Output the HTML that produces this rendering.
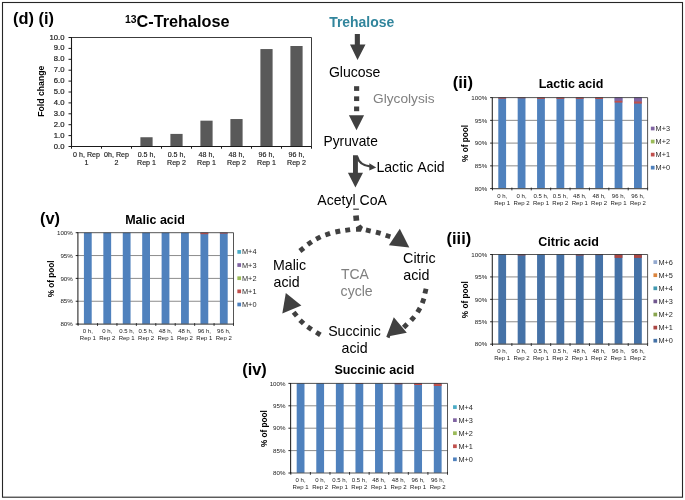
<!DOCTYPE html>
<html lang="en"><head><meta charset="utf-8"><title>13C-Trehalose tracing figure</title>
<style>html,body{margin:0;padding:0;background:#fff;}body{width:685px;height:500px;overflow:hidden;}svg{display:block;}text{font-family:"Liberation Sans", sans-serif;}</style></head><body>
<svg width="685" height="500" viewBox="0 0 685 500">
<rect x="0" y="0" width="685" height="500" fill="#ffffff"/>
<rect x="2.5" y="2.5" width="680" height="494.7" fill="none" stroke="#262626" stroke-width="1.1"/>
<text x="13.00" y="24.00" font-size="16.40" font-weight="bold" fill="#000" text-anchor="start">(d) (i)</text>
<text x="452.70" y="88.00" font-size="16.60" font-weight="bold" fill="#000" text-anchor="start">(ii)</text>
<text x="446.60" y="244.30" font-size="16.40" font-weight="bold" fill="#000" text-anchor="start">(iii)</text>
<text x="242.20" y="375.40" font-size="16.40" font-weight="bold" fill="#000" text-anchor="start">(iv)</text>
<text x="40.00" y="223.60" font-size="16.40" font-weight="bold" fill="#000" text-anchor="start">(v)</text>
<text x="125.0" y="27" font-size="16.25" font-weight="bold" fill="#000"><tspan font-size="10.4" dy="-4.2">13</tspan><tspan dy="4.2">C-Trehalose</tspan></text>
<path d="M71.5 37.5 H311.5 V146.5" fill="none" stroke="#262626" stroke-width="0.9"/>
<rect x="140.40" y="137.24" width="12.2" height="9.26" fill="#595959"/>
<rect x="170.40" y="133.91" width="12.2" height="12.59" fill="#595959"/>
<rect x="200.40" y="120.67" width="12.2" height="25.83" fill="#595959"/>
<rect x="230.40" y="119.03" width="12.2" height="27.47" fill="#595959"/>
<rect x="260.40" y="49.05" width="12.2" height="97.45" fill="#595959"/>
<rect x="290.40" y="46.00" width="12.2" height="100.50" fill="#595959"/>
<path d="M71.5 37.0 V146.5 H311.8" fill="none" stroke="#1a1a1a" stroke-width="1.1"/>
<path d="M68.5 146.50 H71.5" stroke="#1a1a1a" stroke-width="1"/>
<text x="64.50" y="148.50" font-size="7.70" font-weight="normal" fill="#1a1a1a" text-anchor="end" stroke="#1a1a1a" stroke-width="0.2">0.0</text>
<path d="M68.5 135.60 H71.5" stroke="#1a1a1a" stroke-width="1"/>
<text x="64.50" y="137.60" font-size="7.70" font-weight="normal" fill="#1a1a1a" text-anchor="end" stroke="#1a1a1a" stroke-width="0.2">1.0</text>
<path d="M68.5 124.70 H71.5" stroke="#1a1a1a" stroke-width="1"/>
<text x="64.50" y="126.70" font-size="7.70" font-weight="normal" fill="#1a1a1a" text-anchor="end" stroke="#1a1a1a" stroke-width="0.2">2.0</text>
<path d="M68.5 113.80 H71.5" stroke="#1a1a1a" stroke-width="1"/>
<text x="64.50" y="115.80" font-size="7.70" font-weight="normal" fill="#1a1a1a" text-anchor="end" stroke="#1a1a1a" stroke-width="0.2">3.0</text>
<path d="M68.5 102.90 H71.5" stroke="#1a1a1a" stroke-width="1"/>
<text x="64.50" y="104.90" font-size="7.70" font-weight="normal" fill="#1a1a1a" text-anchor="end" stroke="#1a1a1a" stroke-width="0.2">4.0</text>
<path d="M68.5 92.00 H71.5" stroke="#1a1a1a" stroke-width="1"/>
<text x="64.50" y="94.00" font-size="7.70" font-weight="normal" fill="#1a1a1a" text-anchor="end" stroke="#1a1a1a" stroke-width="0.2">5.0</text>
<path d="M68.5 81.10 H71.5" stroke="#1a1a1a" stroke-width="1"/>
<text x="64.50" y="83.10" font-size="7.70" font-weight="normal" fill="#1a1a1a" text-anchor="end" stroke="#1a1a1a" stroke-width="0.2">6.0</text>
<path d="M68.5 70.20 H71.5" stroke="#1a1a1a" stroke-width="1"/>
<text x="64.50" y="72.20" font-size="7.70" font-weight="normal" fill="#1a1a1a" text-anchor="end" stroke="#1a1a1a" stroke-width="0.2">7.0</text>
<path d="M68.5 59.30 H71.5" stroke="#1a1a1a" stroke-width="1"/>
<text x="64.50" y="61.30" font-size="7.70" font-weight="normal" fill="#1a1a1a" text-anchor="end" stroke="#1a1a1a" stroke-width="0.2">8.0</text>
<path d="M68.5 48.40 H71.5" stroke="#1a1a1a" stroke-width="1"/>
<text x="64.50" y="50.40" font-size="7.70" font-weight="normal" fill="#1a1a1a" text-anchor="end" stroke="#1a1a1a" stroke-width="0.2">9.0</text>
<path d="M68.5 37.50 H71.5" stroke="#1a1a1a" stroke-width="1"/>
<text x="64.50" y="39.50" font-size="7.70" font-weight="normal" fill="#1a1a1a" text-anchor="end" stroke="#1a1a1a" stroke-width="0.2">10.0</text>
<path d="M71.50 146.5 V148.7" stroke="#1a1a1a" stroke-width="1"/>
<path d="M101.50 146.5 V148.7" stroke="#1a1a1a" stroke-width="1"/>
<path d="M131.50 146.5 V148.7" stroke="#1a1a1a" stroke-width="1"/>
<path d="M161.50 146.5 V148.7" stroke="#1a1a1a" stroke-width="1"/>
<path d="M191.50 146.5 V148.7" stroke="#1a1a1a" stroke-width="1"/>
<path d="M221.50 146.5 V148.7" stroke="#1a1a1a" stroke-width="1"/>
<path d="M251.50 146.5 V148.7" stroke="#1a1a1a" stroke-width="1"/>
<path d="M281.50 146.5 V148.7" stroke="#1a1a1a" stroke-width="1"/>
<path d="M311.50 146.5 V148.7" stroke="#1a1a1a" stroke-width="1"/>
<text x="86.50" y="157.20" font-size="7.10" font-weight="normal" fill="#1a1a1a" text-anchor="middle" stroke="#1a1a1a" stroke-width="0.15">0 h, Rep</text>
<text x="86.50" y="165.20" font-size="7.10" font-weight="normal" fill="#1a1a1a" text-anchor="middle" stroke="#1a1a1a" stroke-width="0.15">1</text>
<text x="116.50" y="157.20" font-size="7.10" font-weight="normal" fill="#1a1a1a" text-anchor="middle" stroke="#1a1a1a" stroke-width="0.15">0h, Rep</text>
<text x="116.50" y="165.20" font-size="7.10" font-weight="normal" fill="#1a1a1a" text-anchor="middle" stroke="#1a1a1a" stroke-width="0.15">2</text>
<text x="146.50" y="157.20" font-size="7.10" font-weight="normal" fill="#1a1a1a" text-anchor="middle" stroke="#1a1a1a" stroke-width="0.15">0.5 h,</text>
<text x="146.50" y="165.20" font-size="7.10" font-weight="normal" fill="#1a1a1a" text-anchor="middle" stroke="#1a1a1a" stroke-width="0.15">Rep 1</text>
<text x="176.50" y="157.20" font-size="7.10" font-weight="normal" fill="#1a1a1a" text-anchor="middle" stroke="#1a1a1a" stroke-width="0.15">0.5 h,</text>
<text x="176.50" y="165.20" font-size="7.10" font-weight="normal" fill="#1a1a1a" text-anchor="middle" stroke="#1a1a1a" stroke-width="0.15">Rep 2</text>
<text x="206.50" y="157.20" font-size="7.10" font-weight="normal" fill="#1a1a1a" text-anchor="middle" stroke="#1a1a1a" stroke-width="0.15">48 h,</text>
<text x="206.50" y="165.20" font-size="7.10" font-weight="normal" fill="#1a1a1a" text-anchor="middle" stroke="#1a1a1a" stroke-width="0.15">Rep 1</text>
<text x="236.50" y="157.20" font-size="7.10" font-weight="normal" fill="#1a1a1a" text-anchor="middle" stroke="#1a1a1a" stroke-width="0.15">48 h,</text>
<text x="236.50" y="165.20" font-size="7.10" font-weight="normal" fill="#1a1a1a" text-anchor="middle" stroke="#1a1a1a" stroke-width="0.15">Rep 2</text>
<text x="266.50" y="157.20" font-size="7.10" font-weight="normal" fill="#1a1a1a" text-anchor="middle" stroke="#1a1a1a" stroke-width="0.15">96 h,</text>
<text x="266.50" y="165.20" font-size="7.10" font-weight="normal" fill="#1a1a1a" text-anchor="middle" stroke="#1a1a1a" stroke-width="0.15">Rep 1</text>
<text x="296.50" y="157.20" font-size="7.10" font-weight="normal" fill="#1a1a1a" text-anchor="middle" stroke="#1a1a1a" stroke-width="0.15">96 h,</text>
<text x="296.50" y="165.20" font-size="7.10" font-weight="normal" fill="#1a1a1a" text-anchor="middle" stroke="#1a1a1a" stroke-width="0.15">Rep 2</text>
<text transform="translate(43.60 91.20) rotate(-90)" font-size="8.70" font-weight="bold" fill="#000" text-anchor="middle">Fold change</text>
<path d="M492.5 120.35 H647.6" stroke="#8c8c8c" stroke-width="1"/>
<path d="M492.5 143.10 H647.6" stroke="#8c8c8c" stroke-width="1"/>
<path d="M492.5 165.85 H647.6" stroke="#8c8c8c" stroke-width="1"/>
<rect x="498.29" y="97.60" width="7.8" height="91.00" fill="#4F81BD"/>
<rect x="498.29" y="97.60" width="7.8" height="1.10" fill="#C0504D"/>
<rect x="517.68" y="97.60" width="7.8" height="91.00" fill="#4F81BD"/>
<rect x="517.68" y="97.60" width="7.8" height="0.70" fill="#C0504D"/>
<rect x="537.07" y="97.60" width="7.8" height="91.00" fill="#4F81BD"/>
<rect x="537.07" y="97.60" width="7.8" height="1.30" fill="#C0504D"/>
<rect x="556.46" y="97.60" width="7.8" height="91.00" fill="#4F81BD"/>
<rect x="556.46" y="97.60" width="7.8" height="1.30" fill="#C0504D"/>
<rect x="575.84" y="97.60" width="7.8" height="91.00" fill="#4F81BD"/>
<rect x="575.84" y="97.60" width="7.8" height="1.30" fill="#C0504D"/>
<rect x="595.23" y="97.60" width="7.8" height="91.00" fill="#4F81BD"/>
<rect x="595.23" y="97.60" width="7.8" height="1.40" fill="#C0504D"/>
<rect x="614.62" y="97.60" width="7.8" height="91.00" fill="#4F81BD"/>
<rect x="614.62" y="97.60" width="7.8" height="3.20" fill="#8064A2"/>
<rect x="614.62" y="100.80" width="7.8" height="1.80" fill="#C0504D"/>
<rect x="634.01" y="97.60" width="7.8" height="91.00" fill="#4F81BD"/>
<rect x="634.01" y="97.60" width="7.8" height="3.80" fill="#8064A2"/>
<rect x="634.01" y="101.40" width="7.8" height="2.20" fill="#C0504D"/>
<path d="M492.5 97.6 H647.6 V188.6" fill="none" stroke="#2a2a2a" stroke-width="0.8"/>
<path d="M492.5 188.60 H647.6" stroke="#5a5a5a" stroke-width="1.2"/>
<path d="M492.3 97.2 V189.2" stroke="#2a2a2a" stroke-width="1.1"/>
<path d="M490.1 97.60 H492.5" stroke="#111" stroke-width="0.9"/>
<text x="487.20" y="99.80" font-size="6.20" font-weight="normal" fill="#1a1a1a" text-anchor="end">100%</text>
<path d="M490.1 120.35 H492.5" stroke="#111" stroke-width="0.9"/>
<text x="487.20" y="122.55" font-size="6.20" font-weight="normal" fill="#1a1a1a" text-anchor="end">95%</text>
<path d="M490.1 143.10 H492.5" stroke="#111" stroke-width="0.9"/>
<text x="487.20" y="145.30" font-size="6.20" font-weight="normal" fill="#1a1a1a" text-anchor="end">90%</text>
<path d="M490.1 165.85 H492.5" stroke="#111" stroke-width="0.9"/>
<text x="487.20" y="168.05" font-size="6.20" font-weight="normal" fill="#1a1a1a" text-anchor="end">85%</text>
<path d="M490.1 188.60 H492.5" stroke="#111" stroke-width="0.9"/>
<text x="487.20" y="190.80" font-size="6.20" font-weight="normal" fill="#1a1a1a" text-anchor="end">80%</text>
<path d="M492.50 187.6 V190.4" stroke="#222" stroke-width="0.9"/>
<path d="M511.89 187.6 V190.4" stroke="#222" stroke-width="0.9"/>
<path d="M531.27 187.6 V190.4" stroke="#222" stroke-width="0.9"/>
<path d="M550.66 187.6 V190.4" stroke="#222" stroke-width="0.9"/>
<path d="M570.05 187.6 V190.4" stroke="#222" stroke-width="0.9"/>
<path d="M589.44 187.6 V190.4" stroke="#222" stroke-width="0.9"/>
<path d="M608.83 187.6 V190.4" stroke="#222" stroke-width="0.9"/>
<path d="M628.21 187.6 V190.4" stroke="#222" stroke-width="0.9"/>
<path d="M647.60 187.6 V190.4" stroke="#222" stroke-width="0.9"/>
<text x="502.19" y="197.70" font-size="6.00" font-weight="normal" fill="#1a1a1a" text-anchor="middle">0 h,</text>
<text x="502.19" y="204.70" font-size="6.00" font-weight="normal" fill="#1a1a1a" text-anchor="middle">Rep 1</text>
<text x="521.58" y="197.70" font-size="6.00" font-weight="normal" fill="#1a1a1a" text-anchor="middle">0 h,</text>
<text x="521.58" y="204.70" font-size="6.00" font-weight="normal" fill="#1a1a1a" text-anchor="middle">Rep 2</text>
<text x="540.97" y="197.70" font-size="6.00" font-weight="normal" fill="#1a1a1a" text-anchor="middle">0.5 h,</text>
<text x="540.97" y="204.70" font-size="6.00" font-weight="normal" fill="#1a1a1a" text-anchor="middle">Rep 1</text>
<text x="560.36" y="197.70" font-size="6.00" font-weight="normal" fill="#1a1a1a" text-anchor="middle">0.5 h,</text>
<text x="560.36" y="204.70" font-size="6.00" font-weight="normal" fill="#1a1a1a" text-anchor="middle">Rep 2</text>
<text x="579.74" y="197.70" font-size="6.00" font-weight="normal" fill="#1a1a1a" text-anchor="middle">48 h,</text>
<text x="579.74" y="204.70" font-size="6.00" font-weight="normal" fill="#1a1a1a" text-anchor="middle">Rep 1</text>
<text x="599.13" y="197.70" font-size="6.00" font-weight="normal" fill="#1a1a1a" text-anchor="middle">48 h,</text>
<text x="599.13" y="204.70" font-size="6.00" font-weight="normal" fill="#1a1a1a" text-anchor="middle">Rep 2</text>
<text x="618.52" y="197.70" font-size="6.00" font-weight="normal" fill="#1a1a1a" text-anchor="middle">96 h,</text>
<text x="618.52" y="204.70" font-size="6.00" font-weight="normal" fill="#1a1a1a" text-anchor="middle">Rep 1</text>
<text x="637.91" y="197.70" font-size="6.00" font-weight="normal" fill="#1a1a1a" text-anchor="middle">96 h,</text>
<text x="637.91" y="204.70" font-size="6.00" font-weight="normal" fill="#1a1a1a" text-anchor="middle">Rep 2</text>
<text x="571.05" y="88.00" font-size="12.50" font-weight="bold" fill="#000" text-anchor="middle">Lactic acid</text>
<text transform="translate(468.00 143.50) rotate(-90)" font-size="8.20" font-weight="bold" fill="#000" text-anchor="middle">% of pool</text>
<rect x="650.85" y="126.65" width="3.7" height="3.7" fill="#8064A2"/>
<text x="655.60" y="131.00" font-size="7.35" font-weight="normal" fill="#2a2a2a" text-anchor="start">M+3</text>
<rect x="650.85" y="139.70" width="3.7" height="3.7" fill="#9BBB59"/>
<text x="655.60" y="144.05" font-size="7.35" font-weight="normal" fill="#2a2a2a" text-anchor="start">M+2</text>
<rect x="650.85" y="152.75" width="3.7" height="3.7" fill="#C0504D"/>
<text x="655.60" y="157.10" font-size="7.35" font-weight="normal" fill="#2a2a2a" text-anchor="start">M+1</text>
<rect x="650.85" y="165.80" width="3.7" height="3.7" fill="#4F81BD"/>
<text x="655.60" y="170.15" font-size="7.35" font-weight="normal" fill="#2a2a2a" text-anchor="start">M+0</text>
<path d="M492.5 276.93 H647.6" stroke="#8c8c8c" stroke-width="1"/>
<path d="M492.5 299.35 H647.6" stroke="#8c8c8c" stroke-width="1"/>
<path d="M492.5 321.77 H647.6" stroke="#8c8c8c" stroke-width="1"/>
<rect x="498.29" y="254.50" width="7.8" height="89.70" fill="#4572A7"/>
<rect x="517.68" y="254.50" width="7.8" height="89.70" fill="#4572A7"/>
<rect x="517.68" y="254.50" width="7.8" height="0.90" fill="#AA4643"/>
<rect x="537.07" y="254.50" width="7.8" height="89.70" fill="#4572A7"/>
<rect x="556.46" y="254.50" width="7.8" height="89.70" fill="#4572A7"/>
<rect x="575.84" y="254.50" width="7.8" height="89.70" fill="#4572A7"/>
<rect x="575.84" y="254.50" width="7.8" height="1.00" fill="#AA4643"/>
<rect x="595.23" y="254.50" width="7.8" height="89.70" fill="#4572A7"/>
<rect x="595.23" y="254.50" width="7.8" height="0.60" fill="#AA4643"/>
<rect x="614.62" y="254.50" width="7.8" height="89.70" fill="#4572A7"/>
<rect x="614.62" y="254.50" width="7.8" height="3.40" fill="#AA4643"/>
<rect x="634.01" y="254.50" width="7.8" height="89.70" fill="#4572A7"/>
<rect x="634.01" y="254.50" width="7.8" height="3.40" fill="#AA4643"/>
<path d="M492.5 254.5 H647.6 V344.2" fill="none" stroke="#2a2a2a" stroke-width="0.8"/>
<path d="M492.5 344.20 H647.6" stroke="#5a5a5a" stroke-width="1.2"/>
<path d="M492.3 254.1 V344.8" stroke="#2a2a2a" stroke-width="1.1"/>
<path d="M490.1 254.50 H492.5" stroke="#111" stroke-width="0.9"/>
<text x="487.20" y="256.70" font-size="6.20" font-weight="normal" fill="#1a1a1a" text-anchor="end">100%</text>
<path d="M490.1 276.93 H492.5" stroke="#111" stroke-width="0.9"/>
<text x="487.20" y="279.12" font-size="6.20" font-weight="normal" fill="#1a1a1a" text-anchor="end">95%</text>
<path d="M490.1 299.35 H492.5" stroke="#111" stroke-width="0.9"/>
<text x="487.20" y="301.55" font-size="6.20" font-weight="normal" fill="#1a1a1a" text-anchor="end">90%</text>
<path d="M490.1 321.77 H492.5" stroke="#111" stroke-width="0.9"/>
<text x="487.20" y="323.97" font-size="6.20" font-weight="normal" fill="#1a1a1a" text-anchor="end">85%</text>
<path d="M490.1 344.20 H492.5" stroke="#111" stroke-width="0.9"/>
<text x="487.20" y="346.40" font-size="6.20" font-weight="normal" fill="#1a1a1a" text-anchor="end">80%</text>
<path d="M492.50 343.2 V346.0" stroke="#222" stroke-width="0.9"/>
<path d="M511.89 343.2 V346.0" stroke="#222" stroke-width="0.9"/>
<path d="M531.27 343.2 V346.0" stroke="#222" stroke-width="0.9"/>
<path d="M550.66 343.2 V346.0" stroke="#222" stroke-width="0.9"/>
<path d="M570.05 343.2 V346.0" stroke="#222" stroke-width="0.9"/>
<path d="M589.44 343.2 V346.0" stroke="#222" stroke-width="0.9"/>
<path d="M608.83 343.2 V346.0" stroke="#222" stroke-width="0.9"/>
<path d="M628.21 343.2 V346.0" stroke="#222" stroke-width="0.9"/>
<path d="M647.60 343.2 V346.0" stroke="#222" stroke-width="0.9"/>
<text x="502.19" y="353.30" font-size="6.00" font-weight="normal" fill="#1a1a1a" text-anchor="middle">0 h,</text>
<text x="502.19" y="360.30" font-size="6.00" font-weight="normal" fill="#1a1a1a" text-anchor="middle">Rep 1</text>
<text x="521.58" y="353.30" font-size="6.00" font-weight="normal" fill="#1a1a1a" text-anchor="middle">0 h,</text>
<text x="521.58" y="360.30" font-size="6.00" font-weight="normal" fill="#1a1a1a" text-anchor="middle">Rep 2</text>
<text x="540.97" y="353.30" font-size="6.00" font-weight="normal" fill="#1a1a1a" text-anchor="middle">0.5 h,</text>
<text x="540.97" y="360.30" font-size="6.00" font-weight="normal" fill="#1a1a1a" text-anchor="middle">Rep 1</text>
<text x="560.36" y="353.30" font-size="6.00" font-weight="normal" fill="#1a1a1a" text-anchor="middle">0.5 h,</text>
<text x="560.36" y="360.30" font-size="6.00" font-weight="normal" fill="#1a1a1a" text-anchor="middle">Rep 2</text>
<text x="579.74" y="353.30" font-size="6.00" font-weight="normal" fill="#1a1a1a" text-anchor="middle">48 h,</text>
<text x="579.74" y="360.30" font-size="6.00" font-weight="normal" fill="#1a1a1a" text-anchor="middle">Rep 1</text>
<text x="599.13" y="353.30" font-size="6.00" font-weight="normal" fill="#1a1a1a" text-anchor="middle">48 h,</text>
<text x="599.13" y="360.30" font-size="6.00" font-weight="normal" fill="#1a1a1a" text-anchor="middle">Rep 2</text>
<text x="618.52" y="353.30" font-size="6.00" font-weight="normal" fill="#1a1a1a" text-anchor="middle">96 h,</text>
<text x="618.52" y="360.30" font-size="6.00" font-weight="normal" fill="#1a1a1a" text-anchor="middle">Rep 1</text>
<text x="637.91" y="353.30" font-size="6.00" font-weight="normal" fill="#1a1a1a" text-anchor="middle">96 h,</text>
<text x="637.91" y="360.30" font-size="6.00" font-weight="normal" fill="#1a1a1a" text-anchor="middle">Rep 2</text>
<text x="568.55" y="246.00" font-size="12.50" font-weight="bold" fill="#000" text-anchor="middle">Citric acid</text>
<text transform="translate(467.80 299.75) rotate(-90)" font-size="8.20" font-weight="bold" fill="#000" text-anchor="middle">% of pool</text>
<rect x="653.45" y="260.25" width="3.7" height="3.7" fill="#93A9CF"/>
<text x="658.40" y="264.60" font-size="7.35" font-weight="normal" fill="#2a2a2a" text-anchor="start">M+6</text>
<rect x="653.45" y="273.35" width="3.7" height="3.7" fill="#DB843D"/>
<text x="658.40" y="277.70" font-size="7.35" font-weight="normal" fill="#2a2a2a" text-anchor="start">M+5</text>
<rect x="653.45" y="286.45" width="3.7" height="3.7" fill="#4198AF"/>
<text x="658.40" y="290.80" font-size="7.35" font-weight="normal" fill="#2a2a2a" text-anchor="start">M+4</text>
<rect x="653.45" y="299.55" width="3.7" height="3.7" fill="#71588F"/>
<text x="658.40" y="303.90" font-size="7.35" font-weight="normal" fill="#2a2a2a" text-anchor="start">M+3</text>
<rect x="653.45" y="312.65" width="3.7" height="3.7" fill="#89A54E"/>
<text x="658.40" y="317.00" font-size="7.35" font-weight="normal" fill="#2a2a2a" text-anchor="start">M+2</text>
<rect x="653.45" y="325.75" width="3.7" height="3.7" fill="#AA4643"/>
<text x="658.40" y="330.10" font-size="7.35" font-weight="normal" fill="#2a2a2a" text-anchor="start">M+1</text>
<rect x="653.45" y="338.85" width="3.7" height="3.7" fill="#4572A7"/>
<text x="658.40" y="343.20" font-size="7.35" font-weight="normal" fill="#2a2a2a" text-anchor="start">M+0</text>
<path d="M290.8 405.80 H447.5" stroke="#8c8c8c" stroke-width="1"/>
<path d="M290.8 428.20 H447.5" stroke="#8c8c8c" stroke-width="1"/>
<path d="M290.8 450.60 H447.5" stroke="#8c8c8c" stroke-width="1"/>
<rect x="296.69" y="383.40" width="7.8" height="89.60" fill="#4F81BD"/>
<rect x="316.28" y="383.40" width="7.8" height="89.60" fill="#4F81BD"/>
<rect x="335.87" y="383.40" width="7.8" height="89.60" fill="#4F81BD"/>
<rect x="355.46" y="383.40" width="7.8" height="89.60" fill="#4F81BD"/>
<rect x="355.46" y="383.40" width="7.8" height="0.60" fill="#C0504D"/>
<rect x="375.04" y="383.40" width="7.8" height="89.60" fill="#4F81BD"/>
<rect x="394.63" y="383.40" width="7.8" height="89.60" fill="#4F81BD"/>
<rect x="394.63" y="383.40" width="7.8" height="0.90" fill="#C0504D"/>
<rect x="414.22" y="383.40" width="7.8" height="89.60" fill="#4F81BD"/>
<rect x="414.22" y="383.40" width="7.8" height="1.60" fill="#C0504D"/>
<rect x="433.81" y="383.40" width="7.8" height="89.60" fill="#4F81BD"/>
<rect x="433.81" y="383.40" width="7.8" height="2.60" fill="#C0504D"/>
<path d="M290.8 383.4 H447.5 V473.0" fill="none" stroke="#2a2a2a" stroke-width="0.8"/>
<path d="M290.8 473.00 H447.5" stroke="#5a5a5a" stroke-width="1.2"/>
<path d="M290.6 383.0 V473.6" stroke="#2a2a2a" stroke-width="1.1"/>
<path d="M288.4 383.40 H290.8" stroke="#111" stroke-width="0.9"/>
<text x="285.50" y="385.60" font-size="6.20" font-weight="normal" fill="#1a1a1a" text-anchor="end">100%</text>
<path d="M288.4 405.80 H290.8" stroke="#111" stroke-width="0.9"/>
<text x="285.50" y="408.00" font-size="6.20" font-weight="normal" fill="#1a1a1a" text-anchor="end">95%</text>
<path d="M288.4 428.20 H290.8" stroke="#111" stroke-width="0.9"/>
<text x="285.50" y="430.40" font-size="6.20" font-weight="normal" fill="#1a1a1a" text-anchor="end">90%</text>
<path d="M288.4 450.60 H290.8" stroke="#111" stroke-width="0.9"/>
<text x="285.50" y="452.80" font-size="6.20" font-weight="normal" fill="#1a1a1a" text-anchor="end">85%</text>
<path d="M288.4 473.00 H290.8" stroke="#111" stroke-width="0.9"/>
<text x="285.50" y="475.20" font-size="6.20" font-weight="normal" fill="#1a1a1a" text-anchor="end">80%</text>
<path d="M290.80 472.0 V474.8" stroke="#222" stroke-width="0.9"/>
<path d="M310.39 472.0 V474.8" stroke="#222" stroke-width="0.9"/>
<path d="M329.98 472.0 V474.8" stroke="#222" stroke-width="0.9"/>
<path d="M349.56 472.0 V474.8" stroke="#222" stroke-width="0.9"/>
<path d="M369.15 472.0 V474.8" stroke="#222" stroke-width="0.9"/>
<path d="M388.74 472.0 V474.8" stroke="#222" stroke-width="0.9"/>
<path d="M408.32 472.0 V474.8" stroke="#222" stroke-width="0.9"/>
<path d="M427.91 472.0 V474.8" stroke="#222" stroke-width="0.9"/>
<path d="M447.50 472.0 V474.8" stroke="#222" stroke-width="0.9"/>
<text x="300.59" y="482.10" font-size="6.00" font-weight="normal" fill="#1a1a1a" text-anchor="middle">0 h,</text>
<text x="300.59" y="489.10" font-size="6.00" font-weight="normal" fill="#1a1a1a" text-anchor="middle">Rep 1</text>
<text x="320.18" y="482.10" font-size="6.00" font-weight="normal" fill="#1a1a1a" text-anchor="middle">0 h,</text>
<text x="320.18" y="489.10" font-size="6.00" font-weight="normal" fill="#1a1a1a" text-anchor="middle">Rep 2</text>
<text x="339.77" y="482.10" font-size="6.00" font-weight="normal" fill="#1a1a1a" text-anchor="middle">0.5 h,</text>
<text x="339.77" y="489.10" font-size="6.00" font-weight="normal" fill="#1a1a1a" text-anchor="middle">Rep 1</text>
<text x="359.36" y="482.10" font-size="6.00" font-weight="normal" fill="#1a1a1a" text-anchor="middle">0.5 h,</text>
<text x="359.36" y="489.10" font-size="6.00" font-weight="normal" fill="#1a1a1a" text-anchor="middle">Rep 2</text>
<text x="378.94" y="482.10" font-size="6.00" font-weight="normal" fill="#1a1a1a" text-anchor="middle">48 h,</text>
<text x="378.94" y="489.10" font-size="6.00" font-weight="normal" fill="#1a1a1a" text-anchor="middle">Rep 1</text>
<text x="398.53" y="482.10" font-size="6.00" font-weight="normal" fill="#1a1a1a" text-anchor="middle">48 h,</text>
<text x="398.53" y="489.10" font-size="6.00" font-weight="normal" fill="#1a1a1a" text-anchor="middle">Rep 2</text>
<text x="418.12" y="482.10" font-size="6.00" font-weight="normal" fill="#1a1a1a" text-anchor="middle">96 h,</text>
<text x="418.12" y="489.10" font-size="6.00" font-weight="normal" fill="#1a1a1a" text-anchor="middle">Rep 1</text>
<text x="437.71" y="482.10" font-size="6.00" font-weight="normal" fill="#1a1a1a" text-anchor="middle">96 h,</text>
<text x="437.71" y="489.10" font-size="6.00" font-weight="normal" fill="#1a1a1a" text-anchor="middle">Rep 2</text>
<text x="374.35" y="374.00" font-size="12.50" font-weight="bold" fill="#000" text-anchor="middle">Succinic acid</text>
<text transform="translate(266.50 428.60) rotate(-90)" font-size="8.20" font-weight="bold" fill="#000" text-anchor="middle">% of pool</text>
<rect x="453.05" y="405.25" width="3.7" height="3.7" fill="#4BACC6"/>
<text x="458.40" y="409.60" font-size="7.35" font-weight="normal" fill="#2a2a2a" text-anchor="start">M+4</text>
<rect x="453.05" y="418.30" width="3.7" height="3.7" fill="#8064A2"/>
<text x="458.40" y="422.65" font-size="7.35" font-weight="normal" fill="#2a2a2a" text-anchor="start">M+3</text>
<rect x="453.05" y="431.35" width="3.7" height="3.7" fill="#9BBB59"/>
<text x="458.40" y="435.70" font-size="7.35" font-weight="normal" fill="#2a2a2a" text-anchor="start">M+2</text>
<rect x="453.05" y="444.40" width="3.7" height="3.7" fill="#C0504D"/>
<text x="458.40" y="448.75" font-size="7.35" font-weight="normal" fill="#2a2a2a" text-anchor="start">M+1</text>
<rect x="453.05" y="457.45" width="3.7" height="3.7" fill="#4F81BD"/>
<text x="458.40" y="461.80" font-size="7.35" font-weight="normal" fill="#2a2a2a" text-anchor="start">M+0</text>
<path d="M78.1 255.55 H233.5" stroke="#8c8c8c" stroke-width="1"/>
<path d="M78.1 278.40 H233.5" stroke="#8c8c8c" stroke-width="1"/>
<path d="M78.1 301.25 H233.5" stroke="#8c8c8c" stroke-width="1"/>
<rect x="83.91" y="232.70" width="7.8" height="91.40" fill="#4F81BD"/>
<rect x="103.34" y="232.70" width="7.8" height="91.40" fill="#4F81BD"/>
<rect x="122.76" y="232.70" width="7.8" height="91.40" fill="#4F81BD"/>
<rect x="142.19" y="232.70" width="7.8" height="91.40" fill="#4F81BD"/>
<rect x="161.61" y="232.70" width="7.8" height="91.40" fill="#4F81BD"/>
<rect x="181.04" y="232.70" width="7.8" height="91.40" fill="#4F81BD"/>
<rect x="200.46" y="232.70" width="7.8" height="91.40" fill="#4F81BD"/>
<rect x="200.46" y="232.70" width="7.8" height="1.50" fill="#C0504D"/>
<rect x="219.89" y="232.70" width="7.8" height="91.40" fill="#4F81BD"/>
<rect x="219.89" y="232.70" width="7.8" height="0.90" fill="#C0504D"/>
<path d="M78.1 232.7 H233.5 V324.1" fill="none" stroke="#2a2a2a" stroke-width="0.8"/>
<path d="M78.1 324.10 H233.5" stroke="#5a5a5a" stroke-width="1.2"/>
<path d="M77.9 232.3 V324.7" stroke="#2a2a2a" stroke-width="1.1"/>
<path d="M75.7 232.70 H78.1" stroke="#111" stroke-width="0.9"/>
<text x="72.80" y="234.90" font-size="6.20" font-weight="normal" fill="#1a1a1a" text-anchor="end">100%</text>
<path d="M75.7 255.55 H78.1" stroke="#111" stroke-width="0.9"/>
<text x="72.80" y="257.75" font-size="6.20" font-weight="normal" fill="#1a1a1a" text-anchor="end">95%</text>
<path d="M75.7 278.40 H78.1" stroke="#111" stroke-width="0.9"/>
<text x="72.80" y="280.60" font-size="6.20" font-weight="normal" fill="#1a1a1a" text-anchor="end">90%</text>
<path d="M75.7 301.25 H78.1" stroke="#111" stroke-width="0.9"/>
<text x="72.80" y="303.45" font-size="6.20" font-weight="normal" fill="#1a1a1a" text-anchor="end">85%</text>
<path d="M75.7 324.10 H78.1" stroke="#111" stroke-width="0.9"/>
<text x="72.80" y="326.30" font-size="6.20" font-weight="normal" fill="#1a1a1a" text-anchor="end">80%</text>
<path d="M78.10 323.1 V325.9" stroke="#222" stroke-width="0.9"/>
<path d="M97.52 323.1 V325.9" stroke="#222" stroke-width="0.9"/>
<path d="M116.95 323.1 V325.9" stroke="#222" stroke-width="0.9"/>
<path d="M136.38 323.1 V325.9" stroke="#222" stroke-width="0.9"/>
<path d="M155.80 323.1 V325.9" stroke="#222" stroke-width="0.9"/>
<path d="M175.22 323.1 V325.9" stroke="#222" stroke-width="0.9"/>
<path d="M194.65 323.1 V325.9" stroke="#222" stroke-width="0.9"/>
<path d="M214.07 323.1 V325.9" stroke="#222" stroke-width="0.9"/>
<path d="M233.50 323.1 V325.9" stroke="#222" stroke-width="0.9"/>
<text x="87.81" y="333.20" font-size="6.00" font-weight="normal" fill="#1a1a1a" text-anchor="middle">0 h,</text>
<text x="87.81" y="340.20" font-size="6.00" font-weight="normal" fill="#1a1a1a" text-anchor="middle">Rep 1</text>
<text x="107.24" y="333.20" font-size="6.00" font-weight="normal" fill="#1a1a1a" text-anchor="middle">0 h,</text>
<text x="107.24" y="340.20" font-size="6.00" font-weight="normal" fill="#1a1a1a" text-anchor="middle">Rep 2</text>
<text x="126.66" y="333.20" font-size="6.00" font-weight="normal" fill="#1a1a1a" text-anchor="middle">0.5 h,</text>
<text x="126.66" y="340.20" font-size="6.00" font-weight="normal" fill="#1a1a1a" text-anchor="middle">Rep 1</text>
<text x="146.09" y="333.20" font-size="6.00" font-weight="normal" fill="#1a1a1a" text-anchor="middle">0.5 h,</text>
<text x="146.09" y="340.20" font-size="6.00" font-weight="normal" fill="#1a1a1a" text-anchor="middle">Rep 2</text>
<text x="165.51" y="333.20" font-size="6.00" font-weight="normal" fill="#1a1a1a" text-anchor="middle">48 h,</text>
<text x="165.51" y="340.20" font-size="6.00" font-weight="normal" fill="#1a1a1a" text-anchor="middle">Rep 1</text>
<text x="184.94" y="333.20" font-size="6.00" font-weight="normal" fill="#1a1a1a" text-anchor="middle">48 h,</text>
<text x="184.94" y="340.20" font-size="6.00" font-weight="normal" fill="#1a1a1a" text-anchor="middle">Rep 2</text>
<text x="204.36" y="333.20" font-size="6.00" font-weight="normal" fill="#1a1a1a" text-anchor="middle">96 h,</text>
<text x="204.36" y="340.20" font-size="6.00" font-weight="normal" fill="#1a1a1a" text-anchor="middle">Rep 1</text>
<text x="223.79" y="333.20" font-size="6.00" font-weight="normal" fill="#1a1a1a" text-anchor="middle">96 h,</text>
<text x="223.79" y="340.20" font-size="6.00" font-weight="normal" fill="#1a1a1a" text-anchor="middle">Rep 2</text>
<text x="155.05" y="224.00" font-size="12.50" font-weight="bold" fill="#000" text-anchor="middle">Malic acid</text>
<text transform="translate(53.50 278.80) rotate(-90)" font-size="8.20" font-weight="bold" fill="#000" text-anchor="middle">% of pool</text>
<rect x="237.35" y="250.05" width="3.7" height="3.7" fill="#4BACC6"/>
<text x="242.00" y="254.40" font-size="7.35" font-weight="normal" fill="#2a2a2a" text-anchor="start">M+4</text>
<rect x="237.35" y="263.20" width="3.7" height="3.7" fill="#8064A2"/>
<text x="242.00" y="267.55" font-size="7.35" font-weight="normal" fill="#2a2a2a" text-anchor="start">M+3</text>
<rect x="237.35" y="276.35" width="3.7" height="3.7" fill="#9BBB59"/>
<text x="242.00" y="280.70" font-size="7.35" font-weight="normal" fill="#2a2a2a" text-anchor="start">M+2</text>
<rect x="237.35" y="289.50" width="3.7" height="3.7" fill="#C0504D"/>
<text x="242.00" y="293.85" font-size="7.35" font-weight="normal" fill="#2a2a2a" text-anchor="start">M+1</text>
<rect x="237.35" y="302.65" width="3.7" height="3.7" fill="#4F81BD"/>
<text x="242.00" y="307.00" font-size="7.35" font-weight="normal" fill="#2a2a2a" text-anchor="start">M+0</text>
<text x="329.20" y="27.00" font-size="13.95" font-weight="bold" fill="#31859C" text-anchor="start">Trehalose</text>
<text x="328.89" y="77.00" font-size="14.05" font-weight="normal" fill="#000" text-anchor="start">Glucose</text>
<text x="373.06" y="103.00" font-size="13.70" font-weight="normal" fill="#7F7F7F" text-anchor="start">Glycolysis</text>
<text x="323.57" y="146.00" font-size="13.75" font-weight="normal" fill="#000" text-anchor="start">Pyruvate</text>
<text x="376.44" y="172.00" font-size="14.10" font-weight="normal" fill="#000" text-anchor="start" word-spacing="0.9">Lactic Acid</text>
<text x="317.37" y="205.00" font-size="14.05" font-weight="normal" fill="#000" text-anchor="start">Acetyl CoA</text>
<text x="273.04" y="270.00" font-size="14.17" font-weight="normal" fill="#000" text-anchor="start">Malic</text>
<text x="273.60" y="287.00" font-size="14.17" font-weight="normal" fill="#000" text-anchor="start">acid</text>
<text x="403.07" y="263.00" font-size="14.30" font-weight="normal" fill="#000" text-anchor="start">Citric</text>
<text x="403.19" y="280.00" font-size="14.30" font-weight="normal" fill="#000" text-anchor="start">acid</text>
<text x="354.55" y="336.00" font-size="14.20" font-weight="normal" fill="#000" text-anchor="middle">Succinic</text>
<text x="354.55" y="353.00" font-size="14.20" font-weight="normal" fill="#000" text-anchor="middle">acid</text>
<text x="340.89" y="279.00" font-size="13.95" font-weight="normal" fill="#7F7F7F" text-anchor="start">TCA</text>
<text x="340.60" y="296.00" font-size="14.10" font-weight="normal" fill="#7F7F7F" text-anchor="start">cycle</text>
<path d="M354.8 34 H359.9 V44.5 H365.5 L357.5 60 L350 44.5 H354.8 Z" fill="#404040"/>
<rect x="354.05" y="86.20" width="5.15" height="4.7" fill="#404040"/>
<rect x="354.05" y="96.35" width="5.15" height="4.7" fill="#404040"/>
<rect x="354.05" y="106.50" width="5.15" height="4.7" fill="#404040"/>
<path d="M348.9 115.2 H364.1 L356.5 130.3 Z" fill="#404040"/>
<path d="M353 155.2 H357.9 V172.7 H363 L355.4 187.4 L347.9 172.7 H353 Z" fill="#404040"/>
<path d="M357.2 156.5 C358.5 163 364 165.8 371 166.6" fill="none" stroke="#404040" stroke-width="2.2"/>
<path d="M369.3 163.2 L376.2 167.4 L369.3 170.5 Z" fill="#404040"/>
<rect x="353.2" y="208.6" width="5.7" height="1.2" fill="#404040"/>
<rect x="353.35" y="215.50" width="5.70" height="5.20" fill="#404040" transform="rotate(-5.0 356.20 218.10)"/>
<path d="M360.5 224.4 L355.9 227.2 L356.1 231.8 L360.9 231.8 L363.0 226.9 Z" fill="#404040"/>
<rect x="345.25" y="227.55" width="4.90" height="4.90" fill="#404040" transform="rotate(171.4 347.70 230.00)"/>
<rect x="335.35" y="229.05" width="4.90" height="4.90" fill="#404040" transform="rotate(168.1 337.80 231.50)"/>
<rect x="325.25" y="231.75" width="4.90" height="4.90" fill="#404040" transform="rotate(161.6 327.70 234.20)"/>
<rect x="315.85" y="235.55" width="4.90" height="4.90" fill="#404040" transform="rotate(153.4 318.30 238.00)"/>
<rect x="307.25" y="240.75" width="4.90" height="4.90" fill="#404040" transform="rotate(145.1 309.70 243.20)"/>
<rect x="299.35" y="247.05" width="4.90" height="4.90" fill="#404040" transform="rotate(141.4 301.80 249.50)"/>
<rect x="365.85" y="228.05" width="4.90" height="4.90" fill="#404040" transform="rotate(13.0 368.30 230.50)"/>
<rect x="375.85" y="230.35" width="4.90" height="4.90" fill="#404040" transform="rotate(15.6 378.30 232.80)"/>
<rect x="385.55" y="233.55" width="4.90" height="4.90" fill="#404040" transform="rotate(18.3 388.00 236.00)"/>
<path d="M399.8 228.8 L388.9 245.2 L409.3 247.6 Z" fill="#404040"/>
<rect x="423.05" y="288.65" width="4.90" height="4.90" fill="#404040" transform="rotate(103.9 425.50 291.10)"/>
<rect x="420.65" y="298.35" width="4.90" height="4.90" fill="#404040" transform="rotate(109.3 423.10 300.80)"/>
<rect x="416.35" y="307.75" width="4.90" height="4.90" fill="#404040" transform="rotate(120.3 418.80 310.20)"/>
<rect x="410.25" y="316.15" width="4.90" height="4.90" fill="#404040" transform="rotate(130.7 412.70 318.60)"/>
<rect x="402.95" y="323.35" width="4.90" height="4.90" fill="#404040" transform="rotate(135.4 405.40 325.80)"/>
<path d="M393.8 317.3 L406.8 332.7 L390.2 336.0 L389.6 338.3 L387.6 337.6 L386.3 336.8 Z" fill="#404040"/>
<rect x="315.85" y="331.15" width="4.90" height="4.90" fill="#404040" transform="rotate(-147.7 318.30 333.60)"/>
<rect x="307.15" y="325.65" width="4.90" height="4.90" fill="#404040" transform="rotate(-144.7 309.60 328.10)"/>
<rect x="299.35" y="319.45" width="4.90" height="4.90" fill="#404040" transform="rotate(-135.8 301.80 321.90)"/>
<rect x="292.75" y="311.65" width="4.90" height="4.90" fill="#404040" transform="rotate(-130.2 295.20 314.10)"/>
<path d="M285.8 293.0 L301.4 305.4 L282.3 313.5 Z" fill="#404040"/>
</svg></body></html>
